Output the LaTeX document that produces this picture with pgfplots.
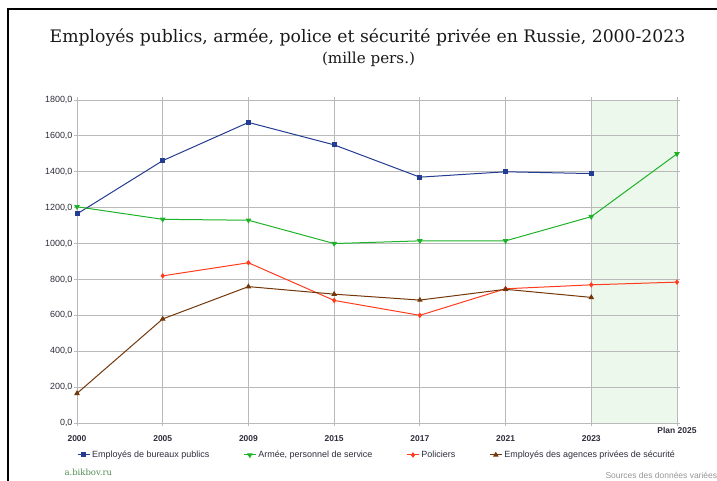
\documentclass[border=0pt]{standalone}
\usepackage{pgfplots}
\pgfplotsset{compat=1.18}
\usepackage{fontspec}
\setmainfont{DejaVu Serif}
\setsansfont{Liberation Sans}

\definecolor{cblue}{RGB}{36,60,145}
\definecolor{cgreen}{RGB}{30,178,40}
\definecolor{cred}{RGB}{255,60,30}
\definecolor{cbrown}{RGB}{115,55,10}
\definecolor{plangreen}{RGB}{236,248,236}
\definecolor{gridgray}{RGB}{185,185,185}
\definecolor{ticktext}{RGB}{45,45,60}

\begin{document}
\begin{tikzpicture}
\draw[line width=2bp] (8bp,0bp) -- (8bp,472bp) -- (717bp,472bp);

\node[anchor=base, font=\fontsize{17.3}{19}\selectfont, color=black!90] at (367.5bp,438bp) {Employés publics, armée, police et sécurité privée en Russie, 2000-2023};
\node[anchor=base, font=\fontsize{15.2}{17}\selectfont, color=black!90] at (368.5bp,417bp) {(mille pers.)};

\begin{axis}[
  at={(77bp,58bp)}, anchor=south west,
  width=600bp, height=323bp, scale only axis,
  set layers,
  xmin=0, xmax=7, ymin=0, ymax=1800,
  xtick={0,...,6},
  xticklabels={2000,2005,2009,2015,2017,2021,2023},
  extra x ticks={7},
  extra x tick labels={Plan 2025},
  extra x tick style={xticklabel style={yshift=8bp}},
  ytick={0,200,...,1800},
  grid=major,
  grid style={gridgray, line width=0.8bp},
  axis line style={gridgray, line width=0.8bp},
  tick style={gridgray, line width=0.8bp},
  major tick length=3bp,
  tick align=outside,
  yticklabel style={font=\sffamily\fontsize{9}{10}\selectfont, text=ticktext, xshift=2bp,
    /pgf/number format/fixed, /pgf/number format/fixed zerofill,
    /pgf/number format/precision=1, /pgf/number format/use comma,
    /pgf/number format/1000 sep={}, /pgf/number format/assume math mode=true},
  xticklabel style={font=\sffamily\bfseries\fontsize{8.5}{10}\selectfont, text=ticktext, yshift=-6bp},
  legend style={at={(0.5,-0.099)}, anchor=center, draw=none, fill=none,
    legend columns=4, font=\sffamily\fontsize{9}{10}\selectfont, text=ticktext,
    /tikz/every even column/.append style={column sep=32bp}},
  legend cell align=left,
  legend image code/.code={\draw[mark repeat=2,mark phase=2] plot coordinates {(0bp,0bp)(6bp,0bp)(12bp,0bp)};},
  every axis plot/.append style={line width=1bp},
]
\addplot[draw=none, fill=plangreen, on layer=axis background, forget plot] coordinates {(6,1800) (7,1800)} \closedcycle;

\addplot[cblue, mark=square*, mark size=2bp] coordinates {
  (0,1165) (1,1462) (2,1675) (3,1550) (4,1370) (5,1400) (6,1390)};
\addlegendentry{Employés de bureaux publics}

\addplot[cgreen, mark=triangle*, mark options={rotate=180}, mark size=2.3bp] coordinates {
  (0,1205) (1,1135) (2,1130) (3,1000) (4,1015) (5,1015) (6,1150) (7,1500)};
\addlegendentry{Armée, personnel de service}

\addplot[cred, mark=diamond*, mark size=2bp] coordinates {
  (1,820) (2,893) (3,683) (4,600) (5,748) (6,770) (7,785)};
\addlegendentry{Policiers}

\addplot[cbrown, mark=triangle*, mark size=2.3bp] coordinates {
  (0,165) (1,580) (2,760) (3,718) (4,685) (5,745) (6,700)};
\addlegendentry{Employés des agences privées de sécurité}
\end{axis}

\node[anchor=west, font=\fontsize{8.5}{10}\selectfont, text={rgb,255:red,80;green,140;blue,80}] at (61bp,9bp) {a.bikbov.ru};
\node[anchor=west, font=\sffamily\fontsize{8.5}{10}\selectfont, text={rgb,255:red,150;green,150;blue,150}] at (602bp,6bp) {Sources des données variées};
\pgfresetboundingbox
\path[use as bounding box] (0bp,0bp) rectangle (717bp,481bp);
\end{tikzpicture}
\end{document}
